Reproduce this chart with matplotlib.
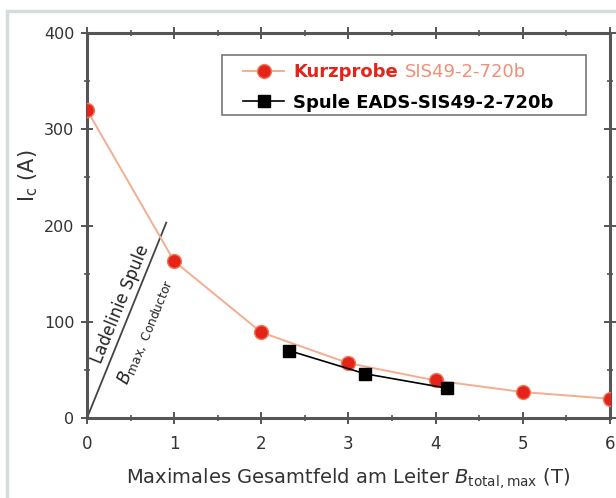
import matplotlib.pyplot as plt
from matplotlib.patches import Rectangle
from matplotlib.ticker import MultipleLocator

plt.rcParams['font.family'] = ['DejaVu Sans']
plt.rcParams['mathtext.fontset'] = 'dejavusans'

# Kurzprobe (short sample) measurement
short_b = [0, 1, 2, 3, 4, 5, 6]
short_ic = [320, 163, 89, 57, 39, 27, 20]

# Spule (coil) measurement
coil_b = [2.32, 3.19, 4.13]
coil_ic = [70, 46, 31]

# load line of the coil
load_b = [0, 0.91]
load_ic = [0, 203]

RED = '#e4241b'
SALMON = '#f4ad90'
GREY = '#555555'
TXT = '#333333'

fig = plt.figure(figsize=(6.16, 4.98), dpi=100)
ax = fig.add_axes([0.1412, 0.1606, 0.8488, 0.7731])

# light panel frame around the figure
fig.patches.append(Rectangle((7 / 616, -0.2), 1.2, 1 - 11 / 498 + 0.2,
                             transform=fig.transFigure, fill=False,
                             edgecolor='#d6dcd9', linewidth=2.5))

ax.plot(short_b, short_ic, color=SALMON, linewidth=1.4, marker='o',
        markersize=10, markerfacecolor=RED, markeredgecolor='#f07a5a',
        markeredgewidth=1.0, label='Kurzprobe', zorder=3)
ax.plot(coil_b, coil_ic, color='black', linewidth=1.2, marker='s',
        markersize=9, markerfacecolor='black', markeredgecolor='black',
        label='Spule EADS-SIS49-2-720b', zorder=4)
ax.plot(load_b, load_ic, color='#444444', linewidth=1.3, zorder=2)

ax.text(0.38, 118, 'Ladelinie Spule', rotation=67.8, rotation_mode='anchor',
        ha='center', va='center', fontsize=12, color='#222222')
ax.text(0.67, 90, r'$B_{\rm max,\ Conductor}$', rotation=67.8,
        rotation_mode='anchor', ha='center', va='center', fontsize=12.5,
        color='#222222')

ax.set_xlim(0, 6)
ax.set_ylim(0, 400)
ax.xaxis.set_major_locator(MultipleLocator(1))
ax.xaxis.set_minor_locator(MultipleLocator(0.5))
ax.yaxis.set_major_locator(MultipleLocator(100))
ax.yaxis.set_minor_locator(MultipleLocator(50))

for sp in ax.spines.values():
    sp.set_color(GREY)
    sp.set_linewidth(2.2)
ax.tick_params(which='major', direction='inout', length=8, width=1.4,
               color=GREY, labelcolor=TXT, top=True, right=True)
ax.tick_params(which='minor', direction='inout', length=4, width=1.2,
               color=GREY, top=True, right=True)
ax.tick_params(axis='x', which='major', labelsize=12, pad=8)
ax.tick_params(axis='y', which='major', labelsize=11.5, pad=5)

ax.set_xlabel(r'Maximales Gesamtfeld am Leiter $B_{\rm total,max}$ (T)',
              fontsize=14, color=TXT, labelpad=10)
ax.set_ylabel(r'I$_{\rm c}$ (A)', fontsize=15, color=TXT)
ax.yaxis.set_label_coords(-0.09, 0.63)

# legend entries without their own frame; the box is drawn separately
leg = ax.legend(loc='upper left', bbox_to_anchor=(0.298, 0.921),
                borderaxespad=0, borderpad=0, frameon=False,
                handlelength=2.3, handletextpad=0.5, labelspacing=0.68,
                prop={'weight': 'bold', 'size': 13})
texts = leg.get_texts()
texts[0].set_color(RED)
texts[1].set_color('black')
ax.add_patch(Rectangle((0.258, 0.787), 0.696, 0.156, transform=ax.transAxes,
                       fill=False, edgecolor='#777777', linewidth=1.2,
                       zorder=5))

# sample name after the red legend entry, drawn in regular weight
ax.annotate('SIS49-2-720b', xy=(1, 0), xycoords=texts[0], xytext=(5, 0),
            textcoords='offset points', ha='left', va='bottom', fontsize=13,
            color='#ef8f75', zorder=6)

fig.savefig('out.png', dpi=100)
